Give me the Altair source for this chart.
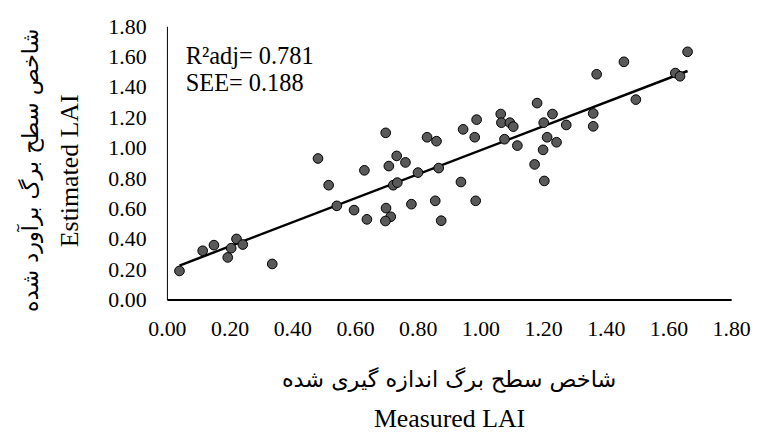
import altair as alt
import pandas as pd

measured = [0.040, 0.114, 0.150, 0.194, 0.205, 0.222, 0.242, 0.336, 0.482, 0.516,
            0.542, 0.597, 0.630, 0.638, 0.698, 0.708, 0.733, 0.761, 0.722, 0.735,
            0.699, 0.714, 0.697, 0.780, 0.801, 0.830, 0.860, 0.867, 0.856, 0.875,
            0.938, 0.945, 0.988, 0.982, 0.985, 1.065, 1.067, 1.094, 1.105, 1.077,
            1.118, 1.181, 1.202, 1.230, 1.274, 1.213, 1.243, 1.200, 1.173, 1.204,
            1.360, 1.360, 1.371, 1.458, 1.496, 1.622, 1.637, 1.661]
estimated = [0.188, 0.321, 0.358, 0.277, 0.338, 0.399, 0.362, 0.234, 0.929, 0.753,
             0.617, 0.589, 0.851, 0.528, 1.098, 0.879, 0.946, 0.903, 0.753, 0.770,
             0.602, 0.545, 0.517, 0.628, 0.836, 1.069, 1.043, 0.866, 0.650, 0.519,
             0.774, 1.121, 1.185, 1.069, 0.650, 1.222, 1.165, 1.165, 1.139, 1.056,
             1.014, 1.294, 1.165, 1.222, 1.150, 1.069, 1.036, 0.986, 0.890, 0.781,
             1.226, 1.141, 1.484, 1.566, 1.317, 1.492, 1.471, 1.632]
tick_values = [0.0, 0.2, 0.4, 0.6, 0.8, 1.0, 1.2, 1.4, 1.6, 1.8]
x_title_en = "Measured LAI"
y_title_en = "Estimated LAI"
x_title_fa = "شاخص سطح برگ اندازه گیری شده"
y_title_fa = "شاخص سطح برگ برآورد شده"
annotation = "R²adj= 0.781\nSEE= 0.188"

FONT = "Times New Roman, Liberation Serif, DejaVu Sans"
FA_FONT = "DejaVu Sans"

df = pd.DataFrame({"Measured": measured, "Estimated": estimated})
scale = alt.Scale(domain=[0, 1.8], nice=False, zero=True)

x_axis = alt.Axis(values=tick_values, format=".2f", title=x_title_en, grid=False,
                  ticks=False, domainColor="black", domainWidth=2,
                  labelFont=FONT, labelFontSize=22, labelColor="black", labelPadding=19,
                  labelFlush=False, labelOverlap=False,
                  titleFont=FONT, titleFontSize=26, titleFontWeight="normal",
                  titleColor="black", titleX=284, titleY=128,
                  titleAlign="center", titleBaseline="alphabetic")
y_axis = alt.Axis(values=tick_values, format=".2f", title=y_title_en, grid=False,
                  ticks=False, domainColor="black", domainWidth=1,
                  labelFont=FONT, labelFontSize=22, labelColor="black", labelPadding=21,
                  labelFlush=False, labelOverlap=False,
                  titleFont=FONT, titleFontSize=26, titleFontWeight="normal",
                  titleColor="black", titleX=-90, titleY=145,
                  titleAngle=270, titleAlign="center", titleBaseline="alphabetic")

base = alt.Chart(df)
points = base.mark_circle(size=95, fill="#595959", stroke="black", strokeWidth=1,
                          opacity=1).encode(
    x=alt.X("Measured:Q", scale=scale, axis=x_axis),
    y=alt.Y("Estimated:Q", scale=scale, axis=y_axis),
)
trend = base.transform_regression("Measured", "Estimated").mark_line(
    color="black", strokeWidth=2.5).encode(
    x=alt.X("Measured:Q", scale=scale, axis=x_axis),
    y=alt.Y("Estimated:Q", scale=scale, axis=y_axis),
)
text = alt.Chart(pd.DataFrame({"t": [annotation]})).mark_text(
    align="left", baseline="alphabetic", font=FONT, fontSize=24.5, lineBreak="\n",
    lineHeight=27, color="black").encode(
    text="t:N", x=alt.value(19), y=alt.value(38))

fa_x = alt.Chart(pd.DataFrame({"t": [x_title_fa]})).mark_text(
    align="center", baseline="alphabetic", font=FA_FONT, fontSize=22.5,
    color="black").encode(text="t:N", x=alt.value(284), y=alt.value(363))
fa_y = alt.Chart(pd.DataFrame({"t": [y_title_fa]})).mark_text(
    align="center", baseline="alphabetic", font=FA_FONT, fontSize=22.5, angle=270,
    color="black").encode(text="t:N", x=alt.value(-130), y=alt.value(145))

chart = alt.layer(trend, points, text, fa_x, fa_y).properties(
    width=568, height=275,
    autosize=alt.AutoSizeParams(type="none"),
    padding={"left": 160, "top": 17, "right": 20, "bottom": 135},
).configure_view(stroke=None).configure_axis(labelOverlap=False)

chart.save("out.html", embed_options={"renderer": "svg", "actions": False})
